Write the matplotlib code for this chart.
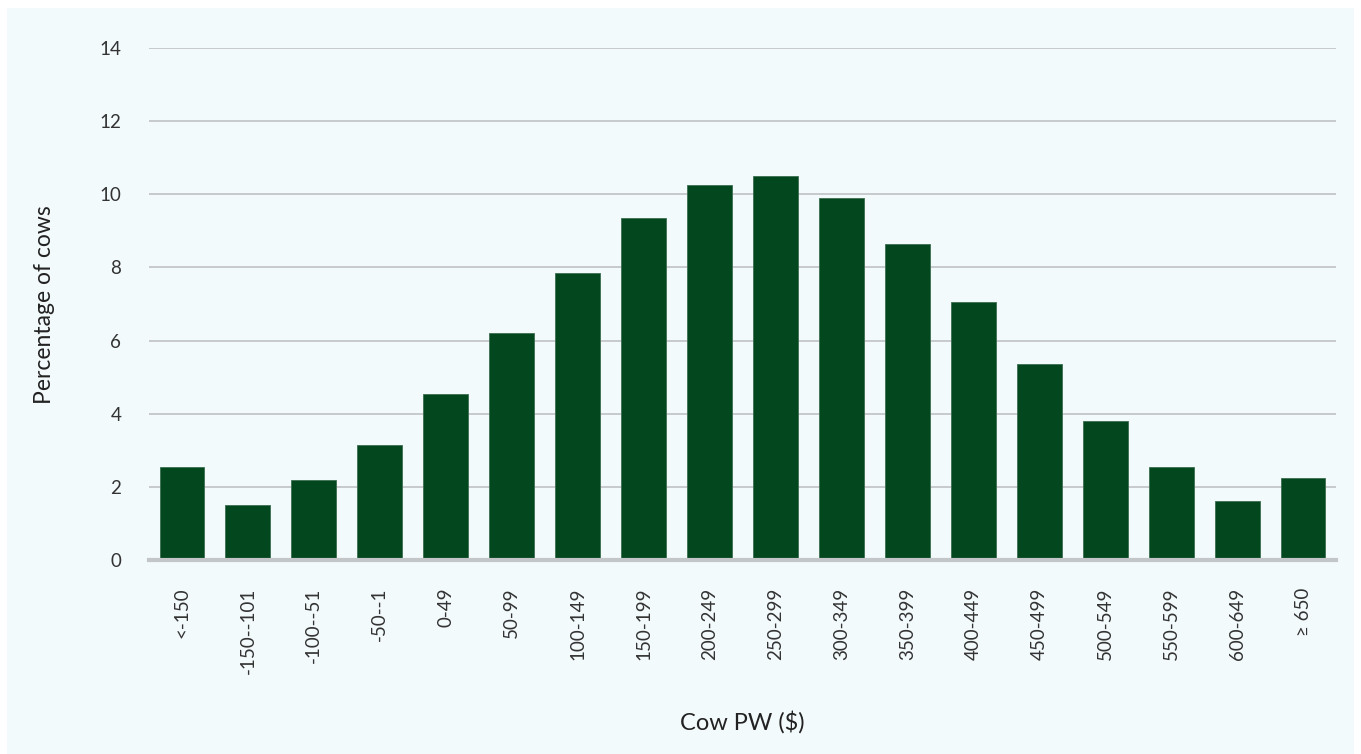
import matplotlib.pyplot as plt
from matplotlib.patches import Rectangle

# Cow PW distribution
categories = ['<-150', '-150--101', '-100--51', '-50--1', '0-49', '50-99',
              '100-149', '150-199', '200-249', '250-299', '300-349', '350-399',
              '400-449', '450-499', '500-549', '550-599', '600-649', '\u2265 650']
pct_cows = [2.55, 1.5, 2.2, 3.15, 4.55, 6.2, 7.85, 9.35, 10.25, 10.5, 9.9,
            8.65, 7.05, 5.35, 3.8, 2.55, 1.6, 2.25]
y_ticks = [0, 2, 4, 6, 8, 10, 12, 14]

bar_color = '#03471f'
panel_color = '#f3fafc'

plt.rcParams['font.family'] = ['Lato', 'DejaVu Sans']

fig = plt.figure(figsize=(13.61, 7.54), dpi=100)
fig.patch.set_facecolor('white')
# light panel behind the chart
fig.add_artist(Rectangle((7 / 1361, 0), 1347 / 1361, 746 / 754,
                         transform=fig.transFigure, facecolor=panel_color,
                         edgecolor='none', zorder=-10))

ax = fig.add_axes([149 / 1361, 1 - 560 / 754, 1187 / 1361, 512 / 754])
ax.set_facecolor('none')
ax.set_zorder(1)

x = range(len(categories))
ax.bar(x, pct_cows, width=0.68, color=bar_color, edgecolor='#3d6e50',
       linewidth=0.6, zorder=3)

ax.set_xlim(-0.5, len(categories) - 0.5)
ax.set_ylim(0, 14)
ax.set_yticks(y_ticks)
ax.set_yticklabels([str(t) for t in y_ticks], fontsize=13.5, color='#333333')
ax.set_xticks(list(x))
ax.set_xticklabels(categories, rotation=90, fontsize=13.5, color='#333333')
ax.tick_params(axis='both', length=0)
ax.tick_params(axis='y', pad=20)
ax.tick_params(axis='x', pad=20)

ax.grid(axis='y', color='#c3c6c9', linewidth=1.3, zorder=0)
for side in ['top', 'right', 'left']:
    ax.spines[side].set_visible(False)
ax.spines['bottom'].set_color('#c3c6c9')
ax.spines['bottom'].set_linewidth(3)
ax.spines['bottom'].set_zorder(4)

fig.text(45 / 1361, 1 - 305 / 754, 'Percentage of cows', rotation=90,
         ha='center', va='center', fontsize=16.5, color='#222222')
fig.text(742 / 1361, 1 - 722 / 754, 'Cow PW ($)', ha='center', va='center',
         fontsize=17, color='#222222')

fig.savefig('out.png', dpi=100, facecolor=fig.get_facecolor())
